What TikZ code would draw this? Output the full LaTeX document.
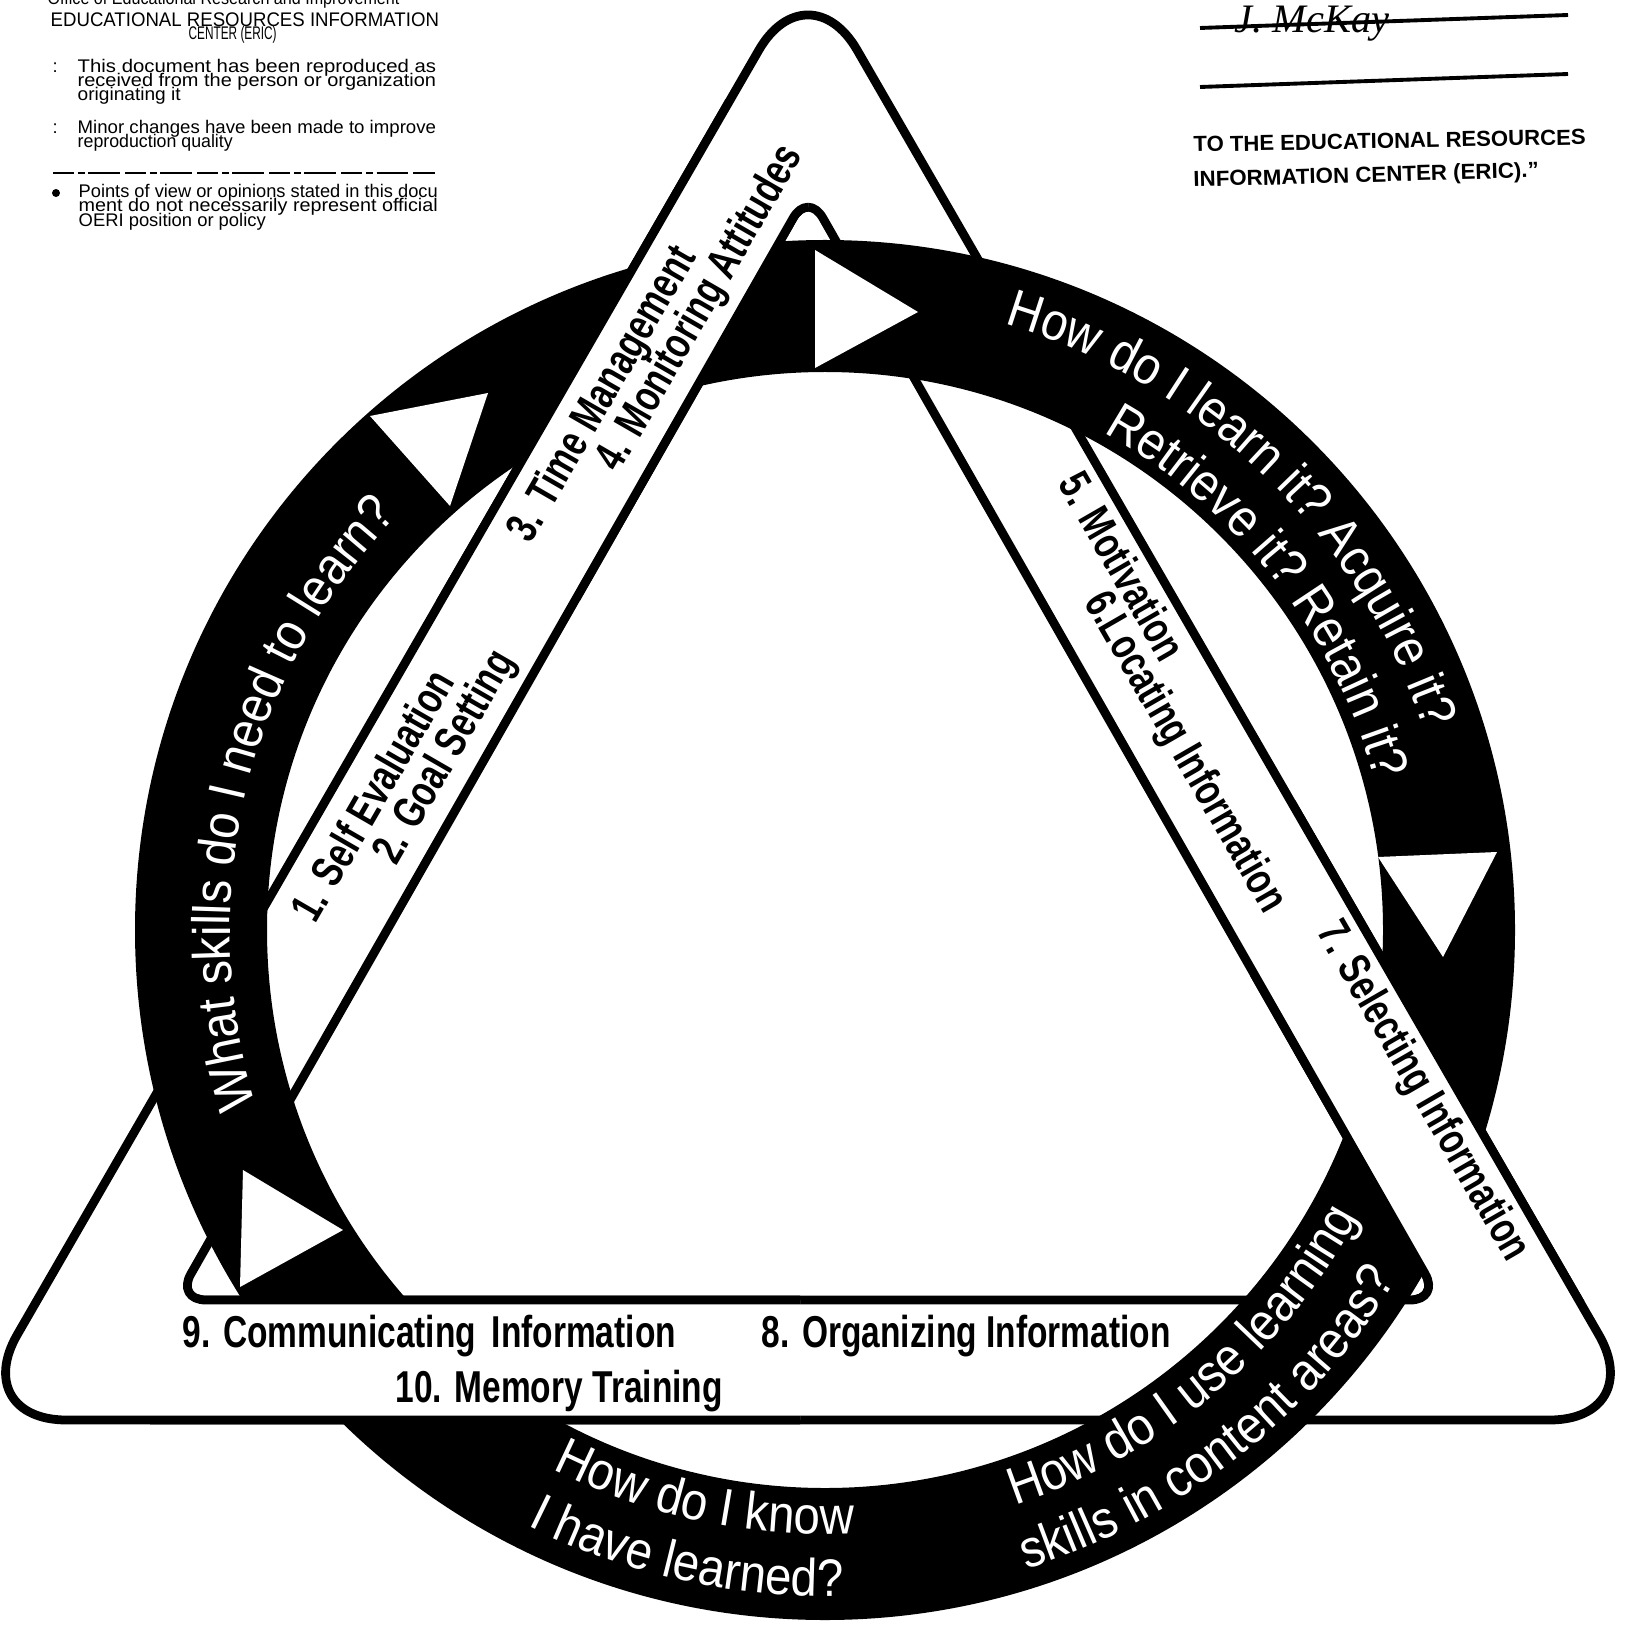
\documentclass[tikz,border=0pt]{standalone}
\usepackage{fontspec}
\usepackage{graphicx}
\usetikzlibrary{decorations.text,calc}
\setmainfont{Liberation Sans}
\newfontfamily\bandfont[FakeStretch=0.75]{Liberation Sans}
\newfontfamily\ringfont[FakeStretch=0.9]{Liberation Sans}
\newfontfamily\sigfont{Liberation Serif}
\newcommand\ringtext{\ringfont\fontsize{15}{18}\selectfont\color{white}}
\newcommand\fitw[2]{\resizebox{#1}{\height}{#2}}
\newcommand\bandshape{%
  \fill[white, even odd rule] [rounded corners=28pt] (1228,1420) -- (-32,1420) -- (808,-35) -- (1648,1420) -- cycle
    [rounded corners=8.5pt] (808,1300) -- (176,1300) -- (808,192) -- (1440,1300) -- cycle;
  \draw[bandline, rounded corners=28pt] (1228,1420) -- (-32,1420) -- (808,-35) -- (1648,1420) -- cycle;
  \draw[bandline, rounded corners=8.5pt] (808,1300) -- (176,1300) -- (808,192) -- (1440,1300) -- cycle;
}
\begin{document}
\begin{tikzpicture}[x=0.01cm, y=-0.01cm,
  bandline/.style={line width=2.5pt, line join=round},
  bandlbl/.style={font=\bandfont\bfseries\fontsize{12.7}{14}\selectfont, inner sep=0pt},
  hdr/.style={font=\fontsize{5.2}{6}\selectfont, inner sep=0pt, anchor=base west},
  ringtxt/.style={decorate, decoration={text along path, text align=center, text={|\ringtext|#1}}}
]
\useasboundingbox (0,0) rectangle (1628,1628);
\fill[white] (0,0) rectangle (1628,1628);
\coordinate (O) at (825,930);

% triangle band (under everything)
\bandshape
% ring
\fill[black, even odd rule] (O) circle[radius=690] (O) circle[radius=558];
% band passes over the ring at three places
\begin{scope}
  \clip (300,100) rectangle (808,600);
  \bandshape
\end{scope}
\begin{scope}
  \clip (1250,800) rectangle (1640,1300);
  \bandshape
\end{scope}
\begin{scope}
  \clip (150,1294) rectangle (800,1500);
  \bandshape
\end{scope}

% white arrowheads on the ring
\fill[white] (815,250) -- (815,368) -- (918,312) -- cycle;
\fill[white] (370,416) -- (450,506) -- (488,393) -- cycle;
\fill[white] (1378,857) -- (1497,852) -- (1443,957) -- cycle;
\fill[white] (243,1170) -- (240,1287) -- (343,1230) -- cycle;

% ring texts
\path[ringtxt={What skills do I need to learn?}] ($(O)+(140:595)$) arc[start angle=140, end angle=247, radius=595];
\path[ringtxt={How do I learn it? Acquire it?}] ($(O)+(-86:632)$) arc[start angle=-86, end angle=-6, radius=632];
\path[ringtxt={Retrieve it? Retain it?}] ($(O)+(-78:570)$) arc[start angle=-78, end angle=2, radius=570];
\path[ringtxt={How do I know}] ($(O)+(132:604)$) arc[start angle=132, end angle=72, radius=604];
\path[ringtxt={I have learned?}] ($(O)+(132.5:666)$) arc[start angle=132.5, end angle=72.5, radius=666];
\path[ringtxt={How do I use learning}] ($(O)+(80:606)$) arc[start angle=80, end angle=20, radius=606];
\path[ringtxt={skills in content areas?}] ($(O)+(82:670)$) arc[start angle=82, end angle=22, radius=670];

% band texts
\node[bandlbl, rotate=60] (s1) at (372,795) {1. Self Evaluation};
\node[bandlbl, rotate=60] (s2) at (446,758) {2. Goal Setting};
\node[bandlbl, rotate=60] (s3) at (604,395) {3. Time Management};
\node[bandlbl, rotate=60] (s4) at (701,309) {4. Monitoring Attitudes};
\node[bandlbl, rotate=-60] (s5) at (1123,566) {5. Motivation};
\node[bandlbl, rotate=-60] (s6) at (1184,753) {6.Locating Information};
\node[bandlbl, rotate=-60] (s7) at (1422,1092) {7. Selecting Information};
\node[bandlbl, anchor=base west] (s9) at (182,1347) {9. Communicating\hspace{0.35em}Information};
\node[bandlbl, anchor=base west] (s8) at (761,1347) {8. Organizing Information};
\node[bandlbl, anchor=base west] (s10) at (395,1402) {10. Memory Training};

% top-left ERIC stamp
\node[hdr] (h0) at (47,5) {\fitw{100pt}{Office of Educational Research and Improvement}};
\node[hdr, font=\fontsize{5.6}{6}\selectfont] (h1) at (50,27) {\fitw{110.4pt}{EDUCATIONAL RESOURCES INFORMATION}};
\node[hdr, font=\fontsize{5.2}{6}\selectfont] (h2) at (188,40) {\fitw{25pt}{CENTER (ERIC)}};
\node[hdr] (c1) at (52,73) {:};
\node[hdr] (h3) at (77,73) {\fitw{101.9pt}{This document has been reproduced as}};
\node[hdr] (h4) at (77,87) {\fitw{101.9pt}{received from the person or organization}};
\node[hdr] (h5) at (77,101) {\fitw{29.3pt}{originating it}};
\node[hdr] (c2) at (52,134) {:};
\node[hdr] (h6) at (77,134) {\fitw{101.9pt}{Minor changes have been made to improve}};
\node[hdr] (h7) at (77,148) {\fitw{44.1pt}{reproduction quality}};
\draw[line width=0.5pt, dash pattern=on 6pt off 1pt on 2pt off 1pt on 9pt off 1.5pt] (53,173) -- (437,173);
\fill (56,193) circle[radius=4];
\node[hdr] (h9) at (78,198) {\fitw{102.1pt}{Points of view or opinions stated in this docu}};
\node[hdr] (h10) at (78,212) {\fitw{102.1pt}{ment do not necessarily represent official}};
\node[hdr] (h11) at (78,227) {\fitw{53.2pt}{OERI position or policy}};

% top-right signature block
\node[anchor=base west, inner sep=0pt, font=\sigfont\itshape\fontsize{11.5}{13}\selectfont] (sig) at (1234,33) {J. McKay};
\draw[line width=1.1pt] (1200,28) -- (1568,15);
\draw[line width=1.1pt] (1200,87) -- (1568,74);
\node[anchor=base west, inner sep=0pt, rotate=1.1, font=\bfseries\fontsize{6.2}{7}\selectfont] (to1) at (1193,152) {\fitw{111.5pt}{TO THE EDUCATIONAL RESOURCES}};
\node[anchor=base west, inner sep=0pt, rotate=1.6, font=\bfseries\fontsize{6.2}{7}\selectfont] (to2) at (1193,187) {\fitw{98.2pt}{INFORMATION CENTER (ERIC).”}};
\end{tikzpicture}
\end{document}
